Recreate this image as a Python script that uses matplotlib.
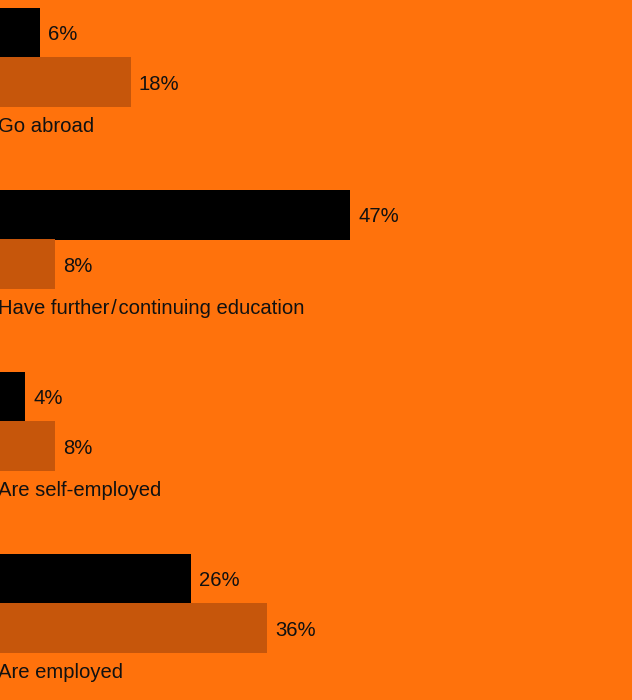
import matplotlib
matplotlib.use("Agg")
import matplotlib.pyplot as plt

categories = ["Go abroad", "Have further\u200a/\u200acontinuing education", "Are self-employed", "Are employed"]
series_a = [6, 47, 4, 26]   # black bars
series_b = [18, 8, 8, 36]   # dark orange bars

BG = "#ff720c"
C_A = "#000000"
C_B = "#c6560b"

W, H = 632, 700
fig = plt.figure(figsize=(W / 100, H / 100), dpi=100, facecolor=BG)
ax = fig.add_axes([0, 0, 1, 1])
ax.set_facecolor(BG)

px_per_unit = 7.558
x0_px = -5.2
ax.set_xlim((0 - x0_px) / px_per_unit, (W - x0_px) / px_per_unit)
gpx = 182.0
ax.set_ylim(H / gpx, 0)
for s in ax.spines.values():
    s.set_visible(False)
ax.set_xticks([])
ax.set_yticks([])

bar_h = 50 / gpx
yA = [i + 33 / gpx for i in range(len(categories))]
yB = [i + 82 / gpx for i in range(len(categories))]
yL = [i + 132 / gpx for i in range(len(categories))]

ax.barh(yA, series_a, height=bar_h, color=C_A, left=0)
ax.barh(yB, series_b, height=bar_h, color=C_B, left=0)

font = dict(family=["Liberation Sans", "DejaVu Sans"], size=14.6, color="#111111")

for y, v in zip(yA, series_a):
    ax.annotate(f"{v}%", (v, y), xytext=(8, -7.5), textcoords="offset pixels",
                ha="left", va="baseline", annotation_clip=False, **font)
for y, v in zip(yB, series_b):
    ax.annotate(f"{v}%", (v, y), xytext=(8, -7.5), textcoords="offset pixels",
                ha="left", va="baseline", annotation_clip=False, **font)
for y, lab in zip(yL, categories):
    ax.annotate(lab, (0, y), xytext=(3.7, 0), textcoords="offset pixels",
                ha="left", va="baseline", annotation_clip=False, **font)

fig.savefig("out.png", dpi=100, facecolor=BG)
